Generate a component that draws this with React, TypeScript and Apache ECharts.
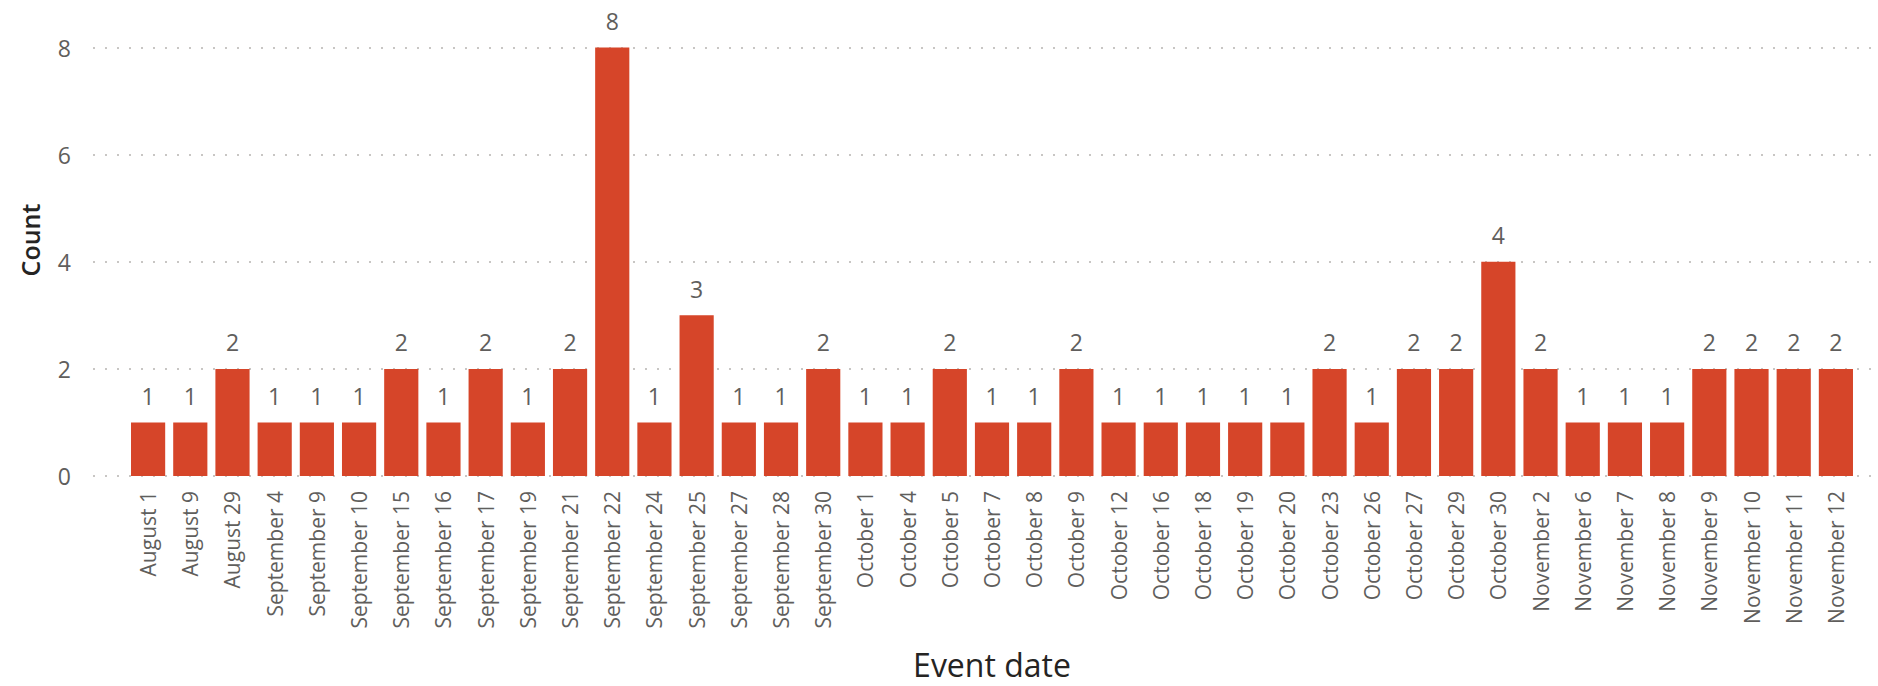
import React, { useEffect, useRef } from "react";
import * as echarts from "echarts";

const categories: string[] = [
  "August 1", "August 9", "August 29", "September 4", "September 9", "September 10",
  "September 15", "September 16", "September 17", "September 19", "September 21",
  "September 22", "September 24", "September 25", "September 27", "September 28",
  "September 30", "October 1", "October 4", "October 5", "October 7", "October 8",
  "October 9", "October 12", "October 16", "October 18", "October 19", "October 20",
  "October 23", "October 26", "October 27", "October 29", "October 30", "November 2",
  "November 6", "November 7", "November 8", "November 9", "November 10", "November 11",
  "November 12",
];

const counts: number[] = [
  1, 1, 2, 1, 1, 1, 2, 1, 2, 1, 2, 8, 1, 3, 1, 1, 2, 1, 1, 2, 1, 1, 2, 1, 1, 1, 1, 1,
  2, 1, 2, 2, 4, 2, 1, 1, 1, 2, 2, 2, 2,
];

const yMin = 0;
const yMax = 8;
const yInterval = 2;

const FONT = "'Segoe UI', 'Open Sans', 'Noto Sans', sans-serif";
const LABEL_GREY = "#605E5C";
const TITLE_DARK = "#252423";
const BAR_COLOR = "#D64529";

export default function App() {
  const ref = useRef<HTMLDivElement>(null);

  useEffect(() => {
    if (!ref.current) return;
    const chart = echarts.init(ref.current, undefined, { renderer: "svg" });
    chart.setOption({
      animation: false,
      backgroundColor: "#ffffff",
      textStyle: { fontFamily: FONT },
      grid: [
        { left: 93, right: 6, top: 47.5, bottom: 210 },
        { left: 127, right: 21, top: 47.5, bottom: 210 },
      ],
      graphic: [
        {
          type: "text",
          x: 30,
          y: 240,
          rotation: Math.PI / 2,
          style: {
            text: "Count",
            fontSize: 25,
            fontWeight: 600,
            fill: TITLE_DARK,
            fontFamily: FONT,
            align: "center",
            verticalAlign: "middle",
          },
        },
      ],
      xAxis: [
        {
          type: "category",
          gridIndex: 0,
          data: categories,
          show: false,
        },
        {
          type: "category",
          gridIndex: 1,
          data: categories,
          axisLine: { show: false },
          axisTick: { show: false },
          axisLabel: {
            rotate: 90,
            interval: 0,
            margin: 15,
            fontSize: 21,
            color: LABEL_GREY,
            fontFamily: FONT,
          },
          name: "Event date",
          nameLocation: "middle",
          nameGap: 172,
          nameTextStyle: { fontSize: 32, color: TITLE_DARK, fontFamily: FONT },
        },
      ],
      yAxis: [
        {
          type: "value",
          gridIndex: 0,
          min: yMin,
          max: yMax,
          interval: yInterval,
          axisLine: { show: false },
          axisTick: { show: false },
          axisLabel: { fontSize: 23, color: LABEL_GREY, margin: 22, fontFamily: FONT },
          splitLine: {
            show: true,
            lineStyle: { color: "#C8C6C4", type: [2, 10], width: 2 },
          },
        },
        {
          type: "value",
          gridIndex: 1,
          min: yMin,
          max: yMax,
          interval: yInterval,
          show: false,
          splitLine: { show: false },
        },
      ],
      series: [
        {
          type: "bar",
          xAxisIndex: 1,
          yAxisIndex: 1,
          data: counts,
          barCategoryGap: "19%",
          itemStyle: { color: BAR_COLOR },
          label: {
            show: true,
            position: "top",
            distance: 15,
            fontSize: 23,
            color: LABEL_GREY,
            fontFamily: FONT,
          },
        },
      ],
    });
    return () => chart.dispose();
  }, []);

  return (
    <div
      ref={ref}
      style={{ position: "fixed", left: 0, top: 0, width: 1878, height: 686 }}
    />
  );
}
